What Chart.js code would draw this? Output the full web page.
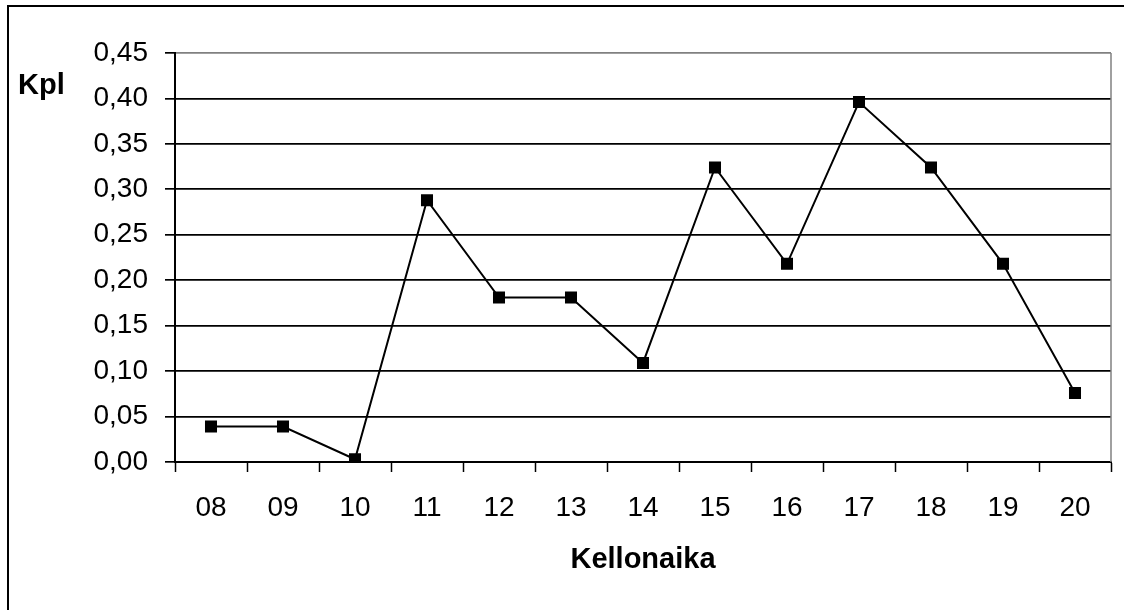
<!DOCTYPE html>
<html>
<head>
<meta charset="utf-8">
<script src="https://cdn.jsdelivr.net/npm/chart.js@4"></script>
<style>
  body { margin: 0; background: #fff; }
</style>
</head>
<body>
<canvas id="kplChart" width="1124" height="610"></canvas>
<script>
// Hours of the day (x categories)
const hours = ["08", "09", "10", "11", "12", "13", "14", "15", "16", "17", "18", "19", "20"];

// Count per hour
const kplValues = [0.039, 0.039, 0.003, 0.288, 0.181, 0.181, 0.109, 0.324, 0.218, 0.396, 0.324, 0.218, 0.076];

// Y axis range
const yMin = 0;
const yMax = 0.45;
const yStep = 0.05;

const yTitle = "Kpl";
const xTitle = "Kellonaika";

// Frame around the whole picture, the "Kpl" label and the gray plot edge
const framePlugin = {
    id: 'frame',
    afterDraw(chart) {
        const ctx = chart.ctx;
        const area = chart.chartArea;
        ctx.save();
        // outer border
        ctx.strokeStyle = '#000';
        ctx.lineWidth = 2;
        ctx.strokeRect(8, 6, 1130, 620);
        // gray right edge of plot area
        ctx.strokeStyle = '#808080';
        ctx.lineWidth = 1.5;
        ctx.beginPath();
        ctx.moveTo(area.right, area.top);
        ctx.lineTo(area.right, area.bottom);
        ctx.stroke();
        // Kpl label
        ctx.fillStyle = '#000';
        ctx.font = 'bold 29px "Liberation Sans", Arial, sans-serif';
        ctx.textAlign = 'left';
        ctx.textBaseline = 'alphabetic';
        ctx.fillText(yTitle, 18, 94);
        ctx.restore();
    }
};

function initializeChart() {
    const ctx = document.getElementById('kplChart').getContext('2d');
    new Chart(ctx, {
        type: 'line',
        data: {
            labels: hours,
            datasets: [{
                label: yTitle,
                data: kplValues,
                borderColor: '#000',
                borderWidth: 2,
                backgroundColor: '#000',
                pointStyle: 'rect',
                pointRadius: 8.5,
                pointBorderWidth: 0,
                pointBackgroundColor: '#000',
                tension: 0
            }]
        },
        options: {
            responsive: false,
            animation: false,
            layout: { padding: { top: 53, right: 13, left: 0, bottom: 0 } },
            plugins: {
                legend: { display: false },
                tooltip: { enabled: false }
            },
            scales: {
                x: {
                    offset: true,
                    afterFit: scale => { scale.height = 148; },
                    grid: {
                        offset: true,
                        drawOnChartArea: false,
                        drawTicks: true,
                        tickLength: 10,
                        tickWidth: 1.5,
                        tickColor: '#000'
                    },
                    border: { color: '#000', width: 2 },
                    ticks: {
                        color: '#000',
                        padding: 19,
                        maxRotation: 0,
                        font: { family: '"Liberation Sans", Arial, sans-serif', size: 28 }
                    },
                    title: {
                        display: true,
                        text: xTitle,
                        color: '#000',
                        padding: { top: 0, bottom: 33 },
                        font: { family: '"Liberation Sans", Arial, sans-serif', size: 29, weight: 'bold' }
                    }
                },
                y: {
                    min: yMin,
                    max: yMax,
                    afterFit: scale => { scale.width = 175; },
                    grid: {
                        color: c => (c.tick && Math.abs(c.tick.value - yMax) < 1e-9) ? '#808080' : '#000',
                        lineWidth: 1.7,
                        drawTicks: true,
                        tickLength: 10,
                        tickColor: '#000'
                    },
                    border: { color: '#000', width: 2 },
                    ticks: {
                        stepSize: yStep,
                        color: '#000',
                        padding: 17,
                        font: { family: '"Liberation Sans", Arial, sans-serif', size: 28 },
                        callback: v => Number(v).toFixed(2).replace('.', ',')
                    }
                }
            }
        },
        plugins: [framePlugin]
    });
}

document.addEventListener('DOMContentLoaded', function() {
    initializeChart();
});
</script>
</body>
</html>
